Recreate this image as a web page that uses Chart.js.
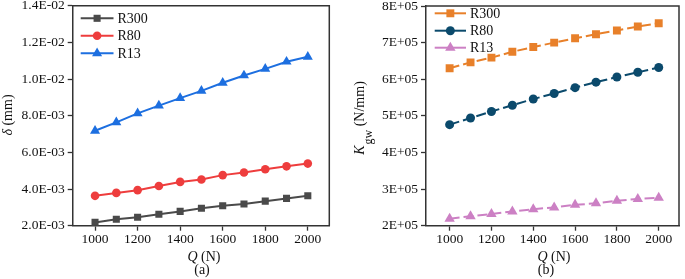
<!DOCTYPE html>
<html><head><meta charset="utf-8">
<script src="https://cdn.jsdelivr.net/npm/chart.js@4"></script>
<style>
html,body{margin:0;padding:0;background:#fff;overflow:hidden;}
#wa{position:absolute;left:0;top:0;}
#wb{position:absolute;left:342px;top:0;}
</style></head><body>
<canvas id="wa" width="342" height="279"></canvas>
<canvas id="wb" width="343" height="279"></canvas>
<script>
// ---- data ----
const loadQ = [1000,1100,1200,1300,1400,1500,1600,1700,1800,1900,2000];
const seriesNames = ['R300','R80','R13'];
// (a) deflection δ (mm)
const deltaR300 = [2.18e-3,2.35e-3,2.46e-3,2.62e-3,2.78e-3,2.95e-3,3.09e-3,3.18e-3,3.34e-3,3.49e-3,3.63e-3];
const deltaR80  = [3.63e-3,3.79e-3,3.94e-3,4.17e-3,4.39e-3,4.52e-3,4.76e-3,4.90e-3,5.08e-3,5.24e-3,5.39e-3];
const deltaR13  = [7.18e-3,7.64e-3,8.13e-3,8.55e-3,8.96e-3,9.36e-3,9.80e-3,10.20e-3,10.56e-3,10.95e-3,11.22e-3];
// (b) stiffness K_gw (N/mm)
const kR300 = [6.30e5,6.46e5,6.59e5,6.75e5,6.88e5,7.00e5,7.12e5,7.23e5,7.33e5,7.44e5,7.53e5];
const kR80  = [4.76e5,4.94e5,5.12e5,5.29e5,5.46e5,5.61e5,5.77e5,5.92e5,6.06e5,6.19e5,6.32e5];
const kR13  = [2.19e5,2.26e5,2.32e5,2.39e5,2.45e5,2.50e5,2.57e5,2.61e5,2.68e5,2.73e5,2.76e5];
// ticks
const xTickValues = [1000,1200,1400,1600,1800,2000];
const xTickLabels = ['1000','1200','1400','1600','1800','2000'];
const yTickValuesA = [0.002,0.004,0.006,0.008,0.010,0.012,0.014];
const yTickLabelsA = ['2.0E-03','4.0E-03','6.0E-03','8.0E-03','1.0E-02','1.2E-02','1.4E-02'];
const yTickValuesB = [200000,300000,400000,500000,600000,700000,800000];
const yTickLabelsB = ['2E+05','3E+05','4E+05','5E+05','6E+05','7E+05','8E+05'];

const SERIF = '"Liberation Serif", serif';
const AX = '#333333';
const TXT = '#111111';

function pts(ys){ return loadQ.map((q,i)=>({x:q,y:ys[i]})); }

function makeChart(id, cfg){
  const ds = cfg.series.map((s,i)=>({
    label: seriesNames[i], data: pts(s.data),
    borderColor: s.color, backgroundColor: s.color,
    pointBackgroundColor: s.color, pointBorderColor: s.color,
    pointStyle: s.style, pointRadius: s.radius, pointBorderWidth: 0,
    borderWidth: 2, borderDash: cfg.dash || [], tension: 0
  }));
  const framePlugin = {
    id: 'frame'+id,
    afterDraw(chart){
      const c = chart.ctx, a = chart.chartArea;
      c.save();
      c.strokeStyle = AX; c.lineWidth = 1.5;
      c.beginPath();
      c.moveTo(a.left, a.top); c.lineTo(a.right, a.top); c.lineTo(a.right, a.bottom);
      c.stroke();
      // legend
      c.font = '14px ' + SERIF; c.textBaseline = 'middle'; c.textAlign = 'left';
      chart.data.datasets.forEach((d,i)=>{
        const y = cfg.legY[i];
        c.strokeStyle = d.borderColor; c.lineWidth = 2;
        c.setLineDash([]);
        c.beginPath(); c.moveTo(cfg.legX0, y); c.lineTo(cfg.legX1, y); c.stroke();
        c.fillStyle = d.borderColor; c.strokeStyle = d.borderColor;
        Chart.helpers.drawPoint(c, {pointStyle: d.pointStyle, radius: d.pointRadius, rotation: 0, borderWidth: 0}, (cfg.legX0+cfg.legX1)/2, y);
        c.fillStyle = TXT;
        c.fillText(d.label, cfg.legX1 + 4, y + 1);
      });
      // x title
      c.fillStyle = TXT; c.textBaseline = 'middle';
      c.font = 'italic 14px ' + SERIF;
      const qW = c.measureText('Q').width;
      c.font = '14px ' + SERIF;
      const nW = c.measureText(' (N)').width;
      let x0 = cfg.xTitleX - (qW+nW)/2;
      c.textAlign = 'left';
      c.font = 'italic 14px ' + SERIF; c.fillText('Q', x0, 257.5);
      c.font = '14px ' + SERIF; c.fillText(' (N)', x0+qW, 257.5);
      c.textAlign = 'center';
      c.fillText(cfg.panel, cfg.panelX, 270);
      // y title
      c.translate(cfg.yTitleX, cfg.yTitleY);
      c.rotate(-Math.PI/2);
      cfg.yTitle(c);
      c.restore();
    }
  };
  return new Chart(document.getElementById(id), {
    type: 'line',
    data: { datasets: ds },
    options: {
      responsive: false, animation: false, devicePixelRatio: 1,
      layout: { padding: { top: 5, right: cfg.padRight, left: 0, bottom: 0 } },
      plugins: { legend: { display: false }, tooltip: { enabled: false } },
      scales: {
        x: {
          type: 'linear', min: cfg.xMin, max: cfg.xMax,
          afterBuildTicks(s){ s.ticks = xTickValues.map(v=>({value:v})); },
          afterFit(s){ s.height = 53.3; s.paddingLeft = 0; s.paddingRight = 0; },
          ticks: { font: { family: SERIF, size: 13.5 }, color: TXT, padding: 1, maxRotation: 0, autoSkip: false,
                   callback(v){ const i = xTickValues.indexOf(v); return i>=0 ? xTickLabels[i] : ''; } },
          grid: { drawOnChartArea: false, drawTicks: true, tickLength: 5, color: AX, tickWidth: 1.3 },
          border: { display: true, color: AX, width: 1.5 }
        },
        y: {
          type: 'linear', min: cfg.yMin, max: cfg.yMax,
          afterBuildTicks(s){ s.ticks = cfg.yVals.map(v=>({value:v})); },
          afterFit(s){ s.width = cfg.yWidth; s.paddingTop = 0; s.paddingBottom = 0; },
          ticks: { font: { family: SERIF, size: 13.5 }, color: TXT, padding: 3, autoSkip: false,
                   callback(v){ const i = cfg.yVals.findIndex(t=>Math.abs(t-v) < 1e-9*Math.max(1,Math.abs(t))); return i>=0 ? cfg.yLabels[i] : ''; } },
          grid: { drawOnChartArea: false, drawTicks: true, tickLength: 5, color: AX, tickWidth: 1.3 },
          border: { display: true, color: AX, width: 1.5 }
        }
      }
    },
    plugins: [framePlugin]
  });
}

makeChart('wa', {
  series: [
    {data: deltaR300, color: '#4a4a4a', style: 'rect', radius: 5},
    {data: deltaR80,  color: '#ee3d3d', style: 'circle', radius: 4.3},
    {data: deltaR13,  color: '#1d6fe0', style: 'triangle', radius: 5.8}
  ],
  xMin: 895, xMax: 2101, yMin: 0.002, yMax: 0.014,
  yVals: yTickValuesA, yLabels: yTickLabelsA, yWidth: 72.7, padRight: 12.7,
  legY: [18.3, 35.8, 53.3], legX0: 80.7, legX1: 113.5,
  xTitleX: 204, panel: '(a)', panelX: 202,
  yTitleX: 8, yTitleY: 115,
  yTitle(c){
    c.textBaseline = 'middle'; c.fillStyle = TXT;
    c.font = 'italic 14px ' + SERIF; const a = c.measureText('δ').width;
    c.font = '14px ' + SERIF; const b = c.measureText(' (mm)').width;
    const x0 = -(a+b)/2;
    c.textAlign = 'left';
    c.font = 'italic 14px ' + SERIF; c.fillText('δ', x0, 0);
    c.font = '14px ' + SERIF; c.fillText(' (mm)', x0+a, 0);
  }
});

makeChart('wb', {
  series: [
    {data: kR300, color: '#e8802a', style: 'rect', radius: 5.6},
    {data: kR80,  color: '#0b4a6c', style: 'circle', radius: 4.5},
    {data: kR13,  color: '#cc80c4', style: 'triangle', radius: 6}
  ],
  dash: [10, 4],
  xMin: 887, xMax: 2097, yMin: 200000, yMax: 800000,
  yVals: yTickValuesB, yLabels: yTickLabelsB, yWidth: 84, padRight: 2,
  legY: [13.3, 30.7, 47.7], legX0: 92.7, legX1: 124,
  xTitleX: 212, panel: '(b)', panelX: 204,
  yTitleX: 18, yTitleY: 118.5,
  yTitle(c){
    c.textBaseline = 'middle'; c.fillStyle = TXT;
    c.font = 'italic 14px ' + SERIF; const a = c.measureText('K').width;
    c.font = '12px ' + SERIF; const g = c.measureText('gw').width;
    c.font = '14px ' + SERIF; const b = c.measureText(' (N/mm)').width;
    const x0 = -(a+g+b)/2;
    c.textAlign = 'left';
    c.font = 'italic 14px ' + SERIF; c.fillText('K', x0, 0);
    c.font = '12px ' + SERIF; c.fillText('gw', x0+a+1, 9);
    c.font = '14px ' + SERIF; c.fillText(' (N/mm)', x0+a+g+1, 0);
  }
});
</script>
</body></html>
